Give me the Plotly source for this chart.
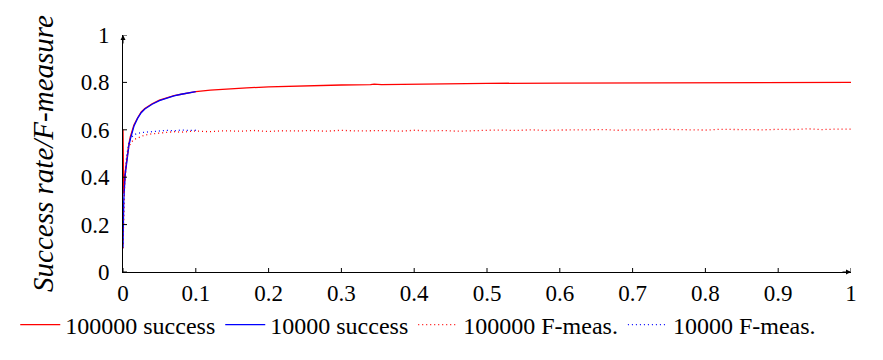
import plotly.graph_objects as go

# ---- data ----
red_s_x = [0, 0.001, 0.003, 0.005, 0.008, 0.01, 0.015, 0.02, 0.025, 0.03, 0.04, 0.05, 0.06, 0.07, 0.08,
           0.09, 0.1, 0.12, 0.14, 0.17, 0.2, 0.25, 0.3, 0.34, 0.345, 0.355, 0.4, 0.48, 0.5, 0.6, 0.7,
           0.845, 0.85, 1.0]
red_s_y = [0.60, 0.33, 0.42, 0.48, 0.54, 0.57, 0.62, 0.65, 0.675, 0.69, 0.71, 0.725, 0.735, 0.744, 0.75,
           0.756, 0.761, 0.767, 0.772, 0.777, 0.781, 0.786, 0.789, 0.791, 0.793, 0.791, 0.793, 0.795, 0.796,
           0.797, 0.798, 0.799, 0.80, 0.80]

blue_s_x = [0, 0.001, 0.003, 0.005, 0.008, 0.01, 0.015, 0.02, 0.025, 0.03, 0.04, 0.05, 0.06, 0.07, 0.08, 0.09, 0.1]
blue_s_y = [0.10, 0.30, 0.41, 0.47, 0.53, 0.56, 0.615, 0.648, 0.672, 0.688, 0.708, 0.723, 0.734, 0.743, 0.75, 0.756, 0.761]

red_f_x = [0, 0.002, 0.005, 0.008, 0.012, 0.016, 0.02, 0.025, 0.03, 0.04, 0.05, 0.06, 0.07, 0.08, 0.09, 0.1,
           0.12, 0.14, 0.16, 0.18, 0.20, 0.22, 0.24, 0.26, 0.28, 0.30, 0.32, 0.34, 0.36, 0.38, 0.40,
           0.42, 0.44, 0.46, 0.48, 0.50, 0.52, 0.54, 0.56, 0.58, 0.60, 0.62, 0.64, 0.66, 0.68, 0.70,
           0.72, 0.74, 0.76, 0.78, 0.80, 0.82, 0.84, 0.86, 0.88, 0.90, 0.92, 0.94, 0.96, 0.98, 1.0]
red_f_y = [0.10, 0.35, 0.47, 0.53, 0.55, 0.56, 0.565, 0.572, 0.578, 0.583, 0.587, 0.59, 0.592, 0.59, 0.594, 0.595,
           0.592, 0.596, 0.594, 0.597, 0.593, 0.596, 0.595, 0.597, 0.594, 0.598, 0.595, 0.596, 0.597, 0.594, 0.598,
           0.595, 0.597, 0.594, 0.597, 0.598, 0.599, 0.597, 0.600, 0.597, 0.599, 0.598, 0.600, 0.601, 0.598, 0.600,
           0.599, 0.602, 0.600, 0.601, 0.599, 0.602, 0.601, 0.603, 0.600, 0.602, 0.601, 0.604, 0.601, 0.603, 0.603]

blue_f_x = [0, 0.002, 0.005, 0.008, 0.012, 0.016, 0.02, 0.025, 0.03, 0.04, 0.05, 0.06, 0.07, 0.08, 0.09, 0.1]
blue_f_y = [0.12, 0.38, 0.49, 0.545, 0.57, 0.58, 0.585, 0.588, 0.59, 0.592, 0.595, 0.598, 0.596, 0.599, 0.597, 0.598]

x_ticks = [0, 0.1, 0.2, 0.3, 0.4, 0.5, 0.6, 0.7, 0.8, 0.9, 1]
x_tick_text = ["0", "0.1", "0.2", "0.3", "0.4", "0.5", "0.6", "0.7", "0.8", "0.9", "1"]
y_ticks = [0, 0.2, 0.4, 0.6, 0.8, 1]
y_tick_text = ["0", "0.2", "0.4", "0.6", "0.8", "1"]

series = [
    ("100000 success", red_s_x, red_s_y, "#ff0000", "solid"),
    ("10000 success", blue_s_x, blue_s_y, "#0000ff", "solid"),
    ("100000 F-meas.", red_f_x, red_f_y, "#ff0000", "1px,3px"),
    ("10000 F-meas.", blue_f_x, blue_f_y, "#0000ff", "1px,3px"),
]

FONT = "Liberation Serif"

fig = go.Figure()
for name, xs, ys, col, dash in series:
    fig.add_trace(go.Scatter(x=xs, y=ys, mode="lines", name=name,
                             line=dict(color=col, width=1.3, dash=dash)))

fig.update_layout(
    width=883, height=360,
    margin=dict(l=123, r=32, t=35, b=88),
    paper_bgcolor="white", plot_bgcolor="white",
    font=dict(family=FONT, size=23, color="black"),
    showlegend=True,
    legend=dict(orientation="h", xref="paper", x=-0.148, xanchor="left",
                yref="paper", y=-0.224, yanchor="middle",
                font=dict(family=FONT, size=24), itemwidth=40,
                tracegroupgap=0, bgcolor="rgba(0,0,0,0)"),
)

fig.update_xaxes(range=[0, 1], tickvals=x_ticks, ticktext=x_tick_text, automargin=False,
                 showgrid=False, zeroline=False, showline=True, linecolor="black", linewidth=1,
                 ticks="", ticklabelstandoff=0)
fig.update_yaxes(range=[0, 1], tickvals=y_ticks, ticktext=y_tick_text, automargin=False,
                 showgrid=False, zeroline=False, showline=True, linecolor="black", linewidth=1,
                 ticks="", ticklabelstandoff=8,
                 title=dict(text="Success rate/F-measure",
                            font=dict(family=FONT, size=29, style="italic"), standoff=18))

# tick marks crossing the axes (pgfplots style)
for v in x_ticks:
    fig.add_shape(type="line", xref="x", yref="y", x0=v, x1=v, ysizemode="pixel", yanchor=0,
                  y0=-4, y1=4, line=dict(color="black", width=1))
for v in y_ticks:
    fig.add_shape(type="line", xref="x", yref="y", y0=v, y1=v, xsizemode="pixel", xanchor=0,
                  x0=-4, x1=4, line=dict(color="black", width=1))

# axis arrows
fig.add_annotation(x=1, y=0, xref="x", yref="y", ax=-10, ay=0, text="", showarrow=True,
                   arrowhead=2, arrowsize=1, arrowwidth=1, arrowcolor="black")
fig.add_annotation(x=0, y=1, xref="x", yref="y", ax=0, ay=10, text="", showarrow=True,
                   arrowhead=2, arrowsize=1, arrowwidth=1, arrowcolor="black")

fig.write_html("out.html", config={"displayModeBar": False},
               post_script="document.body.style.margin='0';document.body.style.padding='0';")
